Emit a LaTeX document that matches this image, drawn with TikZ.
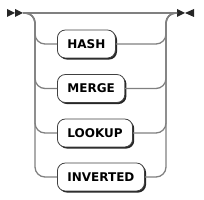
\documentclass[tikz,border=0pt]{standalone}
\usepackage{fontspec}
\setmainfont{DejaVu Sans}
\usetikzlibrary{shadows}
\begin{document}
\begin{tikzpicture}[x=1pt,y=-1pt,
  wire/.style={draw=black!50, line width=1.3pt, rounded corners=10pt},
  term/.style={draw=black!75, line width=0.8pt, rounded corners=8pt, fill=white,
    font=\bfseries\fontsize{12}{14}\selectfont, minimum height=28pt, inner xsep=10pt,
    anchor=west, drop shadow={shadow xshift=1.6pt, shadow yshift=-1.6pt, opacity=1, fill=black!85}},
  tip/.style={fill=black!85}]
\useasboundingbox (0,0) rectangle (204,200);
\coordinate (S) at (23,13);
\coordinate (E) at (177,13);
\fill[tip] (7,9) -- (15,13) -- (7,17) -- cycle;
\fill[tip] (15,9) -- (23,13) -- (15,17) -- cycle;
\fill[tip] (177,9) -- (185,13) -- (177,17) -- cycle;
\fill[tip] (194,9) -- (185,13) -- (194,17) -- cycle;
\node[term] (h) at (57,44) {HASH};
\node[term] (m) at (57,88.5) {MERGE};
\node[term] (l) at (57,133) {LOOKUP};
\node[term] (i) at (57,177) {INVERTED};
\draw[wire] (S) -- (E);
\foreach \n in {h,m,l,i}{
  \draw[wire] (S) -| (35,0 |- \n.west) -- (\n.west);
  \draw[wire] (\n.east) -| (166,13) -- (E);
}
\end{tikzpicture}
\end{document}
